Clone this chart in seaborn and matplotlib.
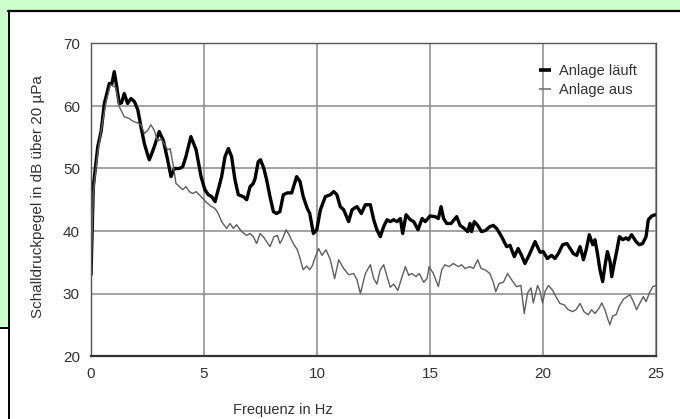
import numpy as np
import pandas as pd
import seaborn as sns
import matplotlib.pyplot as plt
from matplotlib.patches import Rectangle
from matplotlib.lines import Line2D

# Anlage läuft (thick black)
freq_on = [0, 0.1, 0.3, 0.45, 0.59, 0.7, 0.81, 0.92, 1.03, 1.12,
           1.25, 1.35, 1.47, 1.62, 1.77, 1.92, 2.07, 2.21, 2.36, 2.48,
           2.58, 2.7, 2.8, 3.02, 3.2, 3.39, 3.54, 3.69, 3.92, 4.06,
           4.2, 4.42, 4.65, 4.87, 5.04, 5.19, 5.34, 5.49, 5.63, 5.78,
           5.93, 6.08, 6.22, 6.37, 6.52, 6.74, 6.89, 7.04, 7.18, 7.26,
           7.4, 7.5, 7.65, 7.77, 7.92, 8.07, 8.21, 8.36, 8.51, 8.69,
           8.88, 9.1, 9.25, 9.39, 9.57, 9.68, 9.84, 9.99, 10.15, 10.37,
           10.59, 10.74, 10.88, 11.03, 11.18, 11.4, 11.55, 11.77, 11.96, 12.14,
           12.36, 12.51, 12.65, 12.8, 12.95, 13.1, 13.24, 13.39, 13.54, 13.69,
           13.79, 13.94, 14.13, 14.28, 14.47, 14.65, 14.79, 15.0, 15.22, 15.37,
           15.49, 15.6, 15.74, 15.93, 16.18, 16.33, 16.52, 16.67, 16.77, 16.84,
           16.96, 17.11, 17.28, 17.46, 17.65, 17.8, 17.95, 18.17, 18.39, 18.54,
           18.73, 18.9, 19.05, 19.2, 19.38, 19.65, 19.87, 20.01, 20.19, 20.38,
           20.53, 20.68, 20.87, 21.06, 21.2, 21.34, 21.49, 21.64, 21.79, 21.91,
           22.05, 22.2, 22.3, 22.41, 22.52, 22.64, 22.74, 22.85, 22.97, 23.04,
           23.15, 23.27, 23.38, 23.53, 23.67, 23.78, 23.92, 24.12, 24.26, 24.41,
           24.56, 24.66, 24.81, 24.96, 25.0]
level_on = [33, 47, 53.5, 56, 60.4, 62, 63.6, 63.5, 65.5, 63.5,
            60.4, 60.5, 62, 60.4, 61.2, 60.7, 59.4, 56.7, 54.0, 52.5,
            51.4, 52.5, 53.5, 55.9, 54.5, 51.4, 48.7, 50, 50, 50.3,
            51.9, 55.1, 53, 48.7, 46.6, 45.8, 45.5, 44.7, 46.6, 48.7,
            51.9, 53.2, 51.9, 48.2, 45.8, 45.5, 45, 47.1, 47.6, 48.4,
            51.1, 51.4, 50, 48.2, 45.5, 43.1, 42.8, 43.1, 45.8, 46.1,
            46.1, 48.7, 47.9, 45.5, 43.6, 42.8, 39.6, 40.2, 43.4, 45.5,
            45.8, 46.3, 45.8, 43.9, 43.4, 41.5, 43.4, 43.9, 42.8, 44.2,
            44.2, 41.8, 40.2, 39.1, 40.7, 41.8, 41.5, 41.8, 41.5, 42,
            39.6, 42.6, 41.8, 41.5, 40.2, 42, 41.5, 42.4, 42.3, 42,
            43.9, 42, 41.2, 41.2, 42.3, 40.9, 40.4, 39.9, 41.2, 39.9,
            41.5, 40.9, 39.9, 40.1, 40.7, 40.9, 40.4, 39.1, 37.5, 37.7,
            35.9, 37.2, 36.1, 34.8, 36.1, 38.3, 36.6, 36.7, 35.6, 36.1,
            35.6, 36.4, 37.8, 38.0, 37.2, 36.4, 36.1, 37.5, 35.4, 37.0,
            39.4, 37.8, 38.6, 36.4, 33.8, 31.9, 34.4, 36.7, 35.1, 32.7,
            34.8, 36.9, 39.1, 38.6, 38.9, 38.6, 39.4, 38.3, 37.8, 38.0,
            39.1, 41.8, 42.4, 42.6, 42.6]

# Anlage aus (thin grey)
freq_off = [0, 0.1, 0.3, 0.45, 0.66, 0.86, 1.09, 1.25, 1.47, 1.69,
            1.84, 2.06, 2.21, 2.36, 2.51, 2.65, 2.8, 2.95, 3.1, 3.25,
            3.39, 3.5, 3.65, 3.76, 3.91, 4.06, 4.2, 4.35, 4.5, 4.65,
            4.87, 5.1, 5.34, 5.49, 5.63, 5.78, 6.0, 6.15, 6.3, 6.44,
            6.67, 6.89, 7.04, 7.18, 7.33, 7.48, 7.62, 7.77, 7.92, 8.1,
            8.25, 8.36, 8.48, 8.63, 8.78, 8.95, 9.13, 9.25, 9.39, 9.54,
            9.68, 9.8, 9.93, 10.07, 10.22, 10.4, 10.59, 10.78, 10.96, 11.18,
            11.4, 11.62, 11.77, 11.92, 12.14, 12.36, 12.51, 12.65, 12.8, 12.95,
            13.1, 13.24, 13.39, 13.58, 13.72, 13.91, 14.06, 14.2, 14.38, 14.53,
            14.72, 14.87, 14.96, 15.15, 15.37, 15.52, 15.66, 15.84, 16.03, 16.25,
            16.4, 16.55, 16.77, 16.92, 17.11, 17.26, 17.43, 17.65, 17.8, 17.91,
            18.06, 18.25, 18.43, 18.61, 18.83, 19.02, 19.17, 19.32, 19.47, 19.57,
            19.76, 19.87, 19.98, 20.09, 20.24, 20.43, 20.6, 20.75, 20.93, 21.12,
            21.31, 21.46, 21.64, 21.81, 22.0, 22.15, 22.3, 22.49, 22.6, 22.74,
            22.86, 22.96, 23.08, 23.23, 23.38, 23.56, 23.73, 23.85, 24.0, 24.14,
            24.29, 24.44, 24.56, 24.71, 24.86, 25.0]
level_off = [33, 46, 52.5, 56, 60.5, 63.4, 63, 59.9, 58.3, 58,
             57.6, 57.3, 57, 55.6, 56.1, 57, 56.1, 54.4, 54.7, 53.9,
             53, 53.2, 50.3, 47.6, 47.1, 46.6, 47.1, 46.3, 46, 46.3,
             45.5, 44.6, 43.9, 43.6, 42.8, 41.5, 40.4, 41.2, 40.4, 41.0,
             39.9, 39.3, 39.6, 39.1, 38.0, 39.6, 39.1, 38.3, 37.5, 39.1,
             39.3, 38.0, 38.8, 40.2, 39.3, 38.0, 37.0, 35.6, 33.8, 34.4,
             33.8, 34.5, 35.9, 37.2, 36.1, 37.0, 35.4, 32.4, 35.4, 34.0,
             33.0, 33.2, 32.2, 30.0, 33.2, 34.6, 32.4, 31.5, 33.8, 34.6,
             32.7, 31.0, 31.5, 30.5, 32.2, 34.3, 32.9, 33.2, 32.7, 33.2,
             31.8, 32.4, 34.3, 33.2, 31.1, 33.8, 34.6, 34.3, 34.8, 34.3,
             34.6, 34.0, 34.3, 34.0, 35.4, 34.0, 33.8, 33.2, 31.8, 30.3,
             31.6, 31.8, 33.2, 32.2, 31.1, 31.3, 26.8, 30.1, 30.9, 28.5,
             31.3, 30.3, 28.5, 30.3, 31.3, 30.5, 29.3, 28.4, 28.2, 27.4,
             27.1, 27.4, 28.4, 27.1, 26.6, 27.4, 26.8, 27.7, 28.5, 27.4,
             26.0, 25.0, 26.4, 26.6, 28.0, 29.1, 29.5, 29.8, 28.7, 27.4,
             28.5, 29.5, 28.7, 30.1, 31.1, 31.3]

assert len(freq_on) == len(level_on) and len(freq_off) == len(level_off)

labels = ["Anlage läuft", "Anlage aus"]
x_ticks = [0, 5, 10, 15, 20, 25]
y_ticks = [20, 30, 40, 50, 60, 70]

df = pd.concat([
    pd.DataFrame({"f": freq_on, "L": level_on, "Zustand": labels[0]}),
    pd.DataFrame({"f": freq_off, "L": level_off, "Zustand": labels[1]}),
])

sns.set_style("white")
plt.rcParams["font.family"] = ["Liberation Sans", "DejaVu Sans"]

fig = plt.figure(figsize=(6.8, 4.19), dpi=100)
fig.patch.set_facecolor("white")

# green screenshot frame
fig.patches.append(Rectangle((0, 1 - 11 / 419), 1, 11 / 419, transform=fig.transFigure,
                             facecolor="#ccffcc", edgecolor="none", zorder=0))
fig.patches.append(Rectangle((0, 1 - 328 / 419), 8 / 680, 328 / 419, transform=fig.transFigure,
                             facecolor="#ccffcc", edgecolor="none", zorder=0))
fig.lines.append(Line2D([8 / 680, 1], [1 - 11.5 / 419] * 2, transform=fig.transFigure,
                        color="black", lw=1.6))
fig.lines.append(Line2D([8.5 / 680] * 2, [1 - 11 / 419, 0], transform=fig.transFigure,
                        color="black", lw=1.4))
fig.lines.append(Line2D([0, 8.5 / 680], [1 - 328 / 419] * 2, transform=fig.transFigure,
                        color="black", lw=1.4))

ax = fig.add_axes([91 / 680, 1 - 356 / 419, 565 / 680, 312.5 / 419])
sns.lineplot(data=df, x="f", y="L", hue="Zustand", size="Zustand",
             palette={labels[0]: "black", labels[1]: "#5e5e5e"},
             sizes={labels[0]: 2.4, labels[1]: 1.0},
             sort=False, estimator=None, ax=ax, legend=False)
for ln in ax.lines:
    ln.set_solid_joinstyle("round")

ax.set_xlim(0, 25)
ax.set_ylim(20, 70)
ax.set_xticks(x_ticks)
ax.set_yticks(y_ticks)
ax.grid(True, color="#8a8a8a", lw=1.1)
ax.set_axisbelow(True)
for s in ["top", "right", "left"]:
    ax.spines[s].set_color("#555555")
    ax.spines[s].set_linewidth(1.0)
ax.spines["bottom"].set_color("#333333")
ax.spines["bottom"].set_linewidth(1.6)
ax.tick_params(length=0, labelsize=11, labelcolor="#333333", pad=8)

ax.set_xlabel("Frequenz in Hz", fontsize=10.5, color="#333333")
ax.xaxis.set_label_coords(0.34, -0.15)
ax.set_ylabel("Schalldruckpegel in dB über 20 µPa", fontsize=11, color="#333333")
ax.yaxis.set_label_coords(-0.082, 0.51)

handles = [Line2D([], [], color="black", lw=2.6, solid_capstyle="butt"),
           Line2D([], [], color="#777777", lw=1.2, solid_capstyle="butt")]
leg = ax.legend(handles, labels, loc="upper right", bbox_to_anchor=(0.99, 0.975),
                frameon=False, fontsize=10.5, handlelength=0.8, handletextpad=0.6,
                labelspacing=0.3, labelcolor="#333333")

fig.savefig("out.png", dpi=100)
